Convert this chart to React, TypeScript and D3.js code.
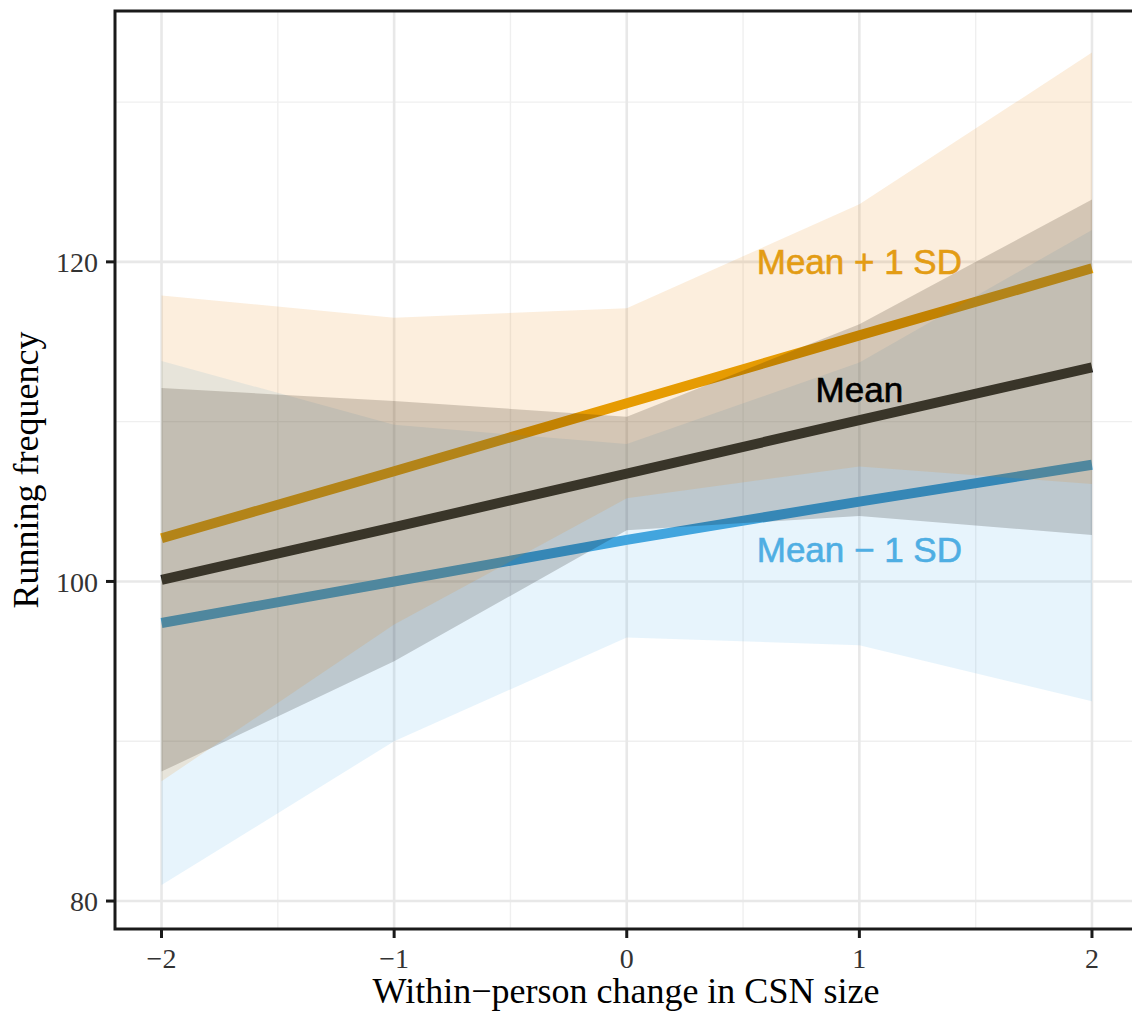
import React, { useRef, useEffect } from 'react';
import * as d3 from 'd3';

// within-person change in CSN size (x values)
const csnChange = [-2, -1, 0, 1, 2];

// Mean + 1 SD
const plusFit = [102.7, 106.9, 111.15, 115.4, 119.6];
const plusUpper = [117.9, 116.5, 117.1, 123.6, 133.1];
const plusLower = [87.5, 97.3, 105.2, 107.2, 106.1];

// Mean
const meanFit = [100.1, 103.4, 106.75, 110.1, 113.4];
const meanUpper = [112.1, 111.3, 110.3, 116.1, 123.9];
const meanLower = [88.1, 95.0, 103.2, 104.1, 102.9];

// Mean - 1 SD
const minusFit = [97.4, 100.0, 102.6, 105.0, 107.3];
const minusUpper = [113.8, 109.8, 108.6, 113.7, 122.0];
const minusLower = [81.0, 90.0, 96.5, 96.0, 92.5];

const groupLabels = ['Mean + 1 SD', 'Mean', 'Mean \u2212 1 SD'];
const labelX = [1, 1, 1];
const labelY = [120, 112, 102];

const xTicks = [-2, -1, 0, 1, 2];
const xMinor = [-1.5, -0.5, 0.5, 1.5];
const yTicks = [80, 100, 120];
const yMinor = [90, 110, 130];

const xTitle = 'Within\u2212person change in CSN size';
const yTitle = 'Running frequency';

const App = () => {
  const svgRef = useRef(null);

  useEffect(() => {
    const svg = d3.select(svgRef.current);
    svg.selectAll('*').remove();

    const left = 115;
    const right = 1138.5;
    const top = 11;
    const bottom = 929;
    const serif = '"Liberation Serif", "Times New Roman", serif';
    const sans = '"Liberation Sans", Arial, sans-serif';

    const x = d3.scaleLinear().domain([-2.2, 2.2]).range([left, right]);
    const y = d3.scaleLinear().domain([78.25, 135.7]).range([bottom, top]);

    svg.append('rect')
      .attr('x', left).attr('y', top)
      .attr('width', right - left).attr('height', bottom - top)
      .attr('fill', '#fff');

    // grid
    const grid = svg.append('g');
    grid.selectAll('.vmin').data(xMinor).enter().append('line')
      .attr('x1', d => x(d)).attr('x2', d => x(d))
      .attr('y1', top).attr('y2', bottom)
      .attr('stroke', '#EFEFEF').attr('stroke-width', 1.4);
    grid.selectAll('.hmin').data(yMinor).enter().append('line')
      .attr('y1', d => y(d)).attr('y2', d => y(d))
      .attr('x1', left).attr('x2', right)
      .attr('stroke', '#EFEFEF').attr('stroke-width', 1.4);
    grid.selectAll('.vmaj').data(xTicks).enter().append('line')
      .attr('x1', d => x(d)).attr('x2', d => x(d))
      .attr('y1', top).attr('y2', bottom)
      .attr('stroke', '#E8E8E8').attr('stroke-width', 2.6);
    grid.selectAll('.hmaj').data(yTicks).enter().append('line')
      .attr('y1', d => y(d)).attr('y2', d => y(d))
      .attr('x1', left).attr('x2', right)
      .attr('stroke', '#E8E8E8').attr('stroke-width', 2.6);

    // drawn in this order: blue band first, orange band last
    const groups = [
      { fit: minusFit, lo: minusLower, hi: minusUpper, color: '#3FA3DC', fill: '#56B4E9', alpha: 0.14 },
      { fit: meanFit, lo: meanLower, hi: meanUpper, color: '#1c1c1c', fill: '#000000', alpha: 0.18 },
      { fit: plusFit, lo: plusLower, hi: plusUpper, color: '#E69F00', fill: '#E8890E', alpha: 0.14 },
    ];

    const line = d3.line<number>()
      .x((d, i) => x(csnChange[i]))
      .y(d => y(d));

    // lines sit under the ribbons
    groups.forEach(g => {
      svg.append('path')
        .attr('d', line(g.fit))
        .attr('fill', 'none')
        .attr('stroke', g.color)
        .attr('stroke-width', 10);
    });

    groups.forEach(g => {
      const area = d3.area<number>()
        .x((d, i) => x(csnChange[i]))
        .y0((d, i) => y(g.lo[i]))
        .y1(d => y(d));
      svg.append('path')
        .attr('d', area(g.hi))
        .attr('fill', g.fill)
        .attr('fill-opacity', g.alpha);
    });

    // group labels
    svg.selectAll('.lab').data(groupLabels).enter().append('text')
      .attr('x', (d, i) => x(labelX[i]))
      .attr('y', (d, i) => y(labelY[i]))
      .attr('dy', '0.36em')
      .attr('text-anchor', 'middle')
      .attr('font-family', sans)
      .attr('font-size', 35)
      .attr('stroke-width', 0.6)
      .attr('fill', (d, i) => ['#E39C14', '#000000', '#4FAEE3'][i])
      .attr('stroke', (d, i) => ['#E39C14', '#000000', '#4FAEE3'][i])
      .text(d => d);

    // panel border
    svg.append('rect')
      .attr('x', left).attr('y', top)
      .attr('width', right - left).attr('height', bottom - top)
      .attr('fill', 'none')
      .attr('stroke', '#1a1a1a')
      .attr('stroke-width', 3);

    // ticks
    svg.selectAll('.xt').data(xTicks).enter().append('line')
      .attr('x1', d => x(d)).attr('x2', d => x(d))
      .attr('y1', bottom).attr('y2', bottom + 9)
      .attr('stroke', '#1a1a1a').attr('stroke-width', 3);
    svg.selectAll('.yt').data(yTicks).enter().append('line')
      .attr('y1', d => y(d)).attr('y2', d => y(d))
      .attr('x1', left - 9).attr('x2', left)
      .attr('stroke', '#1a1a1a').attr('stroke-width', 3);

    svg.selectAll('.xl').data(xTicks).enter().append('text')
      .attr('x', d => x(d))
      .attr('y', 968)
      .attr('text-anchor', 'middle')
      .attr('font-family', serif)
      .attr('font-size', 28)
      .attr('fill', '#333')
      .text(d => (d < 0 ? '\u2212' + Math.abs(d) : String(d)));
    svg.selectAll('.yl').data(yTicks).enter().append('text')
      .attr('x', 98)
      .attr('y', d => y(d))
      .attr('dy', '0.36em')
      .attr('text-anchor', 'end')
      .attr('font-family', serif)
      .attr('font-size', 28)
      .attr('fill', '#333')
      .text(d => d);

    // axis titles
    svg.append('text')
      .attr('x', 626)
      .attr('y', 1003)
      .attr('text-anchor', 'middle')
      .attr('font-family', serif)
      .attr('font-size', 36)
      .attr('fill', '#000')
      .text(xTitle);
    svg.append('text')
      .attr('transform', `translate(38,${(top + bottom) / 2}) rotate(-90)`)
      .attr('text-anchor', 'middle')
      .attr('font-family', serif)
      .attr('font-size', 36)
      .attr('fill', '#000')
      .text(yTitle);
  }, []);

  return (
    <svg
      ref={svgRef}
      width={1132}
      height={1012}
      style={{ position: 'absolute', left: 0, top: 0, background: '#fff' }}
    />
  );
};

export default App;
